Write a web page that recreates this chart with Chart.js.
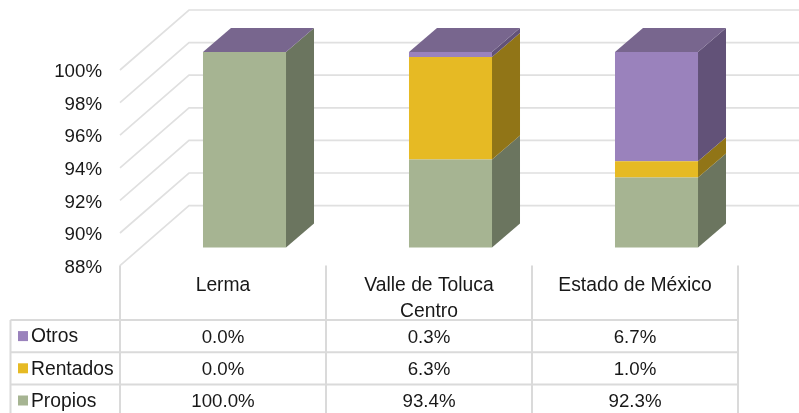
<!DOCTYPE html>
<html lang="es">
<head>
    <title>Tenencia</title>
    <meta charset="utf-8">
    <script src="https://cdnjs.cloudflare.com/ajax/libs/Chart.js/4.4.1/chart.umd.js"></script>
    <style>
        html, body { margin: 0; padding: 0; background: #fff; overflow: hidden; }
        canvas { display: block; }
    </style>
</head>
<body>
<canvas id="chart" width="799" height="413"></canvas>
<script>
// data
const categories = ['Lerma', ['Valle de Toluca', 'Centro'], 'Estado de México'];
const propios = [100.0, 93.4, 92.3];
const rentados = [0.0, 6.3, 1.0];
const otros = [0.0, 0.3, 6.7];
const axisMin = 88;
const axisMax = 100;
const axisStep = 2;

const FONT = '"Liberation Sans", Arial, sans-serif';
const NUM_SIZE = 18.7;
const WORD_SIZE = 19.3;
const TEXT = '#181818';
const LINE = '#e0e0e0';

// bars sit between the front plane and the back wall
const BAR_SHIFT = { x: 21.5, y: -18 };
const BAR_DEPTH = { x: 28, y: 24 };
const WALL = { x: 69, y: 60 };
const TOP_COLOR = '#78668e';

const series = [
    { label: 'Propios', data: propios, color: '#a6b492', side: '#6b755f' },
    { label: 'Rentados', data: rentados, color: '#e6ba24', side: '#917517' },
    { label: 'Otros', data: otros, color: '#9a82bc', side: '#625278' }
];

function poly(ctx, pts, color) {
    ctx.fillStyle = color;
    ctx.beginPath();
    pts.forEach((p, i) => i ? ctx.lineTo(p[0], p[1]) : ctx.moveTo(p[0], p[1]));
    ctx.closePath();
    ctx.fill();
}

const walls = {
    id: 'walls',
    beforeDatasetsDraw(chart) {
        const { ctx, scales: { y }, width } = chart;
        const left = chart.chartArea.left;
        ctx.save();
        ctx.strokeStyle = LINE;
        ctx.lineWidth = 1.7;
        for (let v = axisMin; v <= axisMax; v += axisStep) {
            const py = y.getPixelForValue(v);
            ctx.beginPath();
            ctx.moveTo(left, py);
            ctx.lineTo(left + WALL.x, py - WALL.y);
            ctx.lineTo(width, py - WALL.y);
            ctx.stroke();
        }
        ctx.restore();

        // shift the bars, the library clip moves with them
        ctx.save();
        ctx.translate(BAR_SHIFT.x, BAR_SHIFT.y);
        const area = chart.chartArea;
        series.forEach((s, i) => {
            chart.getDatasetMeta(i).data.forEach(el => {
                const r = el.x + el.width / 2;
                const top = Math.max(el.y, area.top);
                const bot = Math.min(el.base, area.bottom);
                if (bot - top < 0.1) return;
                poly(ctx, [[r, bot], [r + BAR_DEPTH.x, bot - BAR_DEPTH.y], [r + BAR_DEPTH.x, top - BAR_DEPTH.y], [r, top]], s.side);
            });
        });
        chart.getDatasetMeta(series.length - 1).data.forEach(el => {
            const l = el.x - el.width / 2;
            const r = el.x + el.width / 2;
            const top = Math.max(el.y, area.top);
            poly(ctx, [[l, top], [l + BAR_DEPTH.x, top - BAR_DEPTH.y], [r + BAR_DEPTH.x, top - BAR_DEPTH.y], [r, top]], TOP_COLOR);
        });
    },
    afterDatasetsDraw(chart) {
        chart.ctx.restore();
    }
};

const dataTable = {
    id: 'dataTable',
    afterDraw(chart) {
        const { ctx, chartArea: area, scales: { x }, height } = chart;
        const rowTop = 320;
        const rowH = 32.2;
        const tableLeft = 10.5;
        const rows = series.slice().reverse();
        const colW = (area.right - area.left) / categories.length;
        ctx.save();
        ctx.strokeStyle = '#dadada';
        ctx.lineWidth = 2;
        ctx.beginPath();
        rows.forEach((s, i) => {
            ctx.moveTo(tableLeft, rowTop + i * rowH);
            ctx.lineTo(area.right, rowTop + i * rowH);
        });
        ctx.moveTo(tableLeft, rowTop);
        ctx.lineTo(tableLeft, height);
        for (let c = 0; c <= categories.length; c++) {
            ctx.moveTo(area.left + c * colW, area.bottom);
            ctx.lineTo(area.left + c * colW, height);
        }
        ctx.stroke();

        ctx.textBaseline = 'middle';
        rows.forEach((s, i) => {
            const cy = rowTop + i * rowH + rowH / 2;
            ctx.fillStyle = s.color;
            ctx.fillRect(18, cy - 5, 10, 10);
            ctx.fillStyle = TEXT;
            ctx.textAlign = 'left';
            ctx.font = WORD_SIZE + 'px ' + FONT;
            ctx.fillText(s.label, 31, cy + 1);
            ctx.textAlign = 'center';
            ctx.font = NUM_SIZE + 'px ' + FONT;
            s.data.forEach((v, c) => {
                ctx.fillText(v.toFixed(1) + '%', x.getPixelForValue(c), cy + 1.5);
            });
        });
        ctx.restore();
    }
};

new Chart('chart', {
    type: 'bar',
    data: {
        labels: categories,
        datasets: series.map(s => ({
            label: s.label,
            data: s.data,
            backgroundColor: s.color,
            borderWidth: 0,
            barPercentage: 0.403,
            categoryPercentage: 1
        }))
    },
    options: {
        responsive: false,
        animation: false,
        layout: { padding: { top: 70, right: 61, left: 0, bottom: 0 } },
        plugins: { legend: { display: false }, tooltip: { enabled: false } },
        scales: {
            x: {
                stacked: true,
                grid: { display: false },
                border: { display: false },
                ticks: {
                    padding: 0,
                    maxRotation: 0,
                    autoSkip: false,
                    color: TEXT,
                    font: { family: FONT, size: WORD_SIZE, lineHeight: 1.3 }
                },
                afterFit(s) { s.height = 147.4; s.paddingLeft = 0; s.paddingRight = 0; }
            },
            y: {
                stacked: true,
                min: axisMin,
                max: axisMax,
                grid: { display: false, drawTicks: false },
                border: { display: false },
                ticks: {
                    stepSize: axisStep,
                    padding: 18,
                    labelOffset: 2,
                    color: TEXT,
                    font: { family: FONT, size: NUM_SIZE },
                    callback: v => v + '%'
                },
                afterFit(s) { s.width = 120; s.paddingTop = 0; s.paddingBottom = 0; }
            }
        }
    },
    plugins: [walls, dataTable]
});
</script>
</body>
</html>
